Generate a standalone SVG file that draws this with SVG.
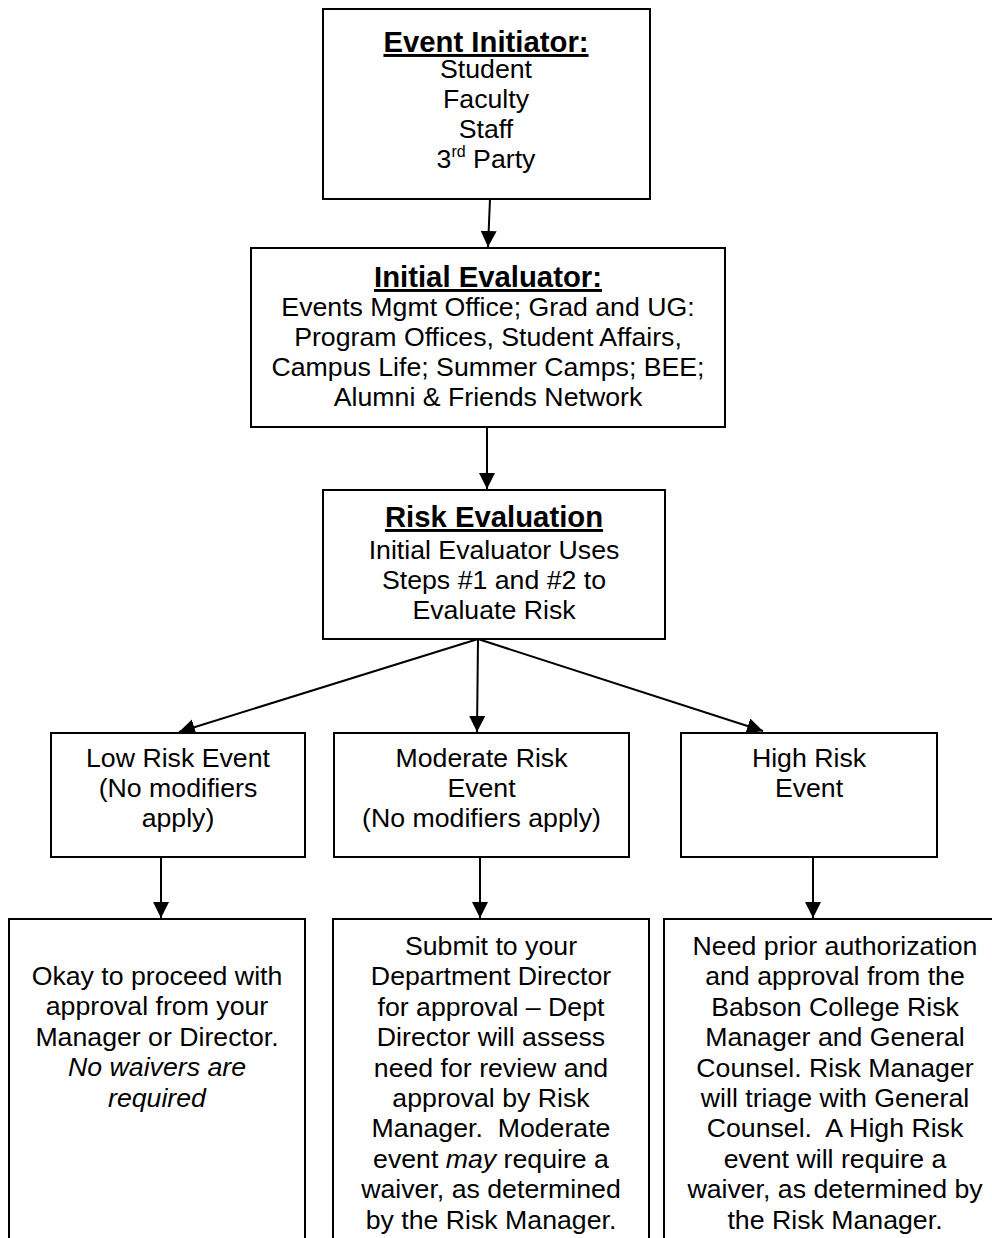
<svg xmlns="http://www.w3.org/2000/svg" width="992" height="1238" viewBox="0 0 992 1238">
<style>
.box{fill:#fff;stroke:#000;stroke-width:2}
.t{font-family:"Liberation Sans",Arial,sans-serif;font-size:26.7px;fill:#000;text-anchor:middle}
.h{font-family:"Liberation Sans",Arial,sans-serif;font-size:29.3px;font-weight:bold;fill:#000;text-anchor:middle;text-decoration:underline}
.i{font-style:italic}
.c{stroke:#000;stroke-width:2;fill:none;marker-end:url(#ah)}
</style>
<defs>
<marker id="ah" markerUnits="userSpaceOnUse" markerWidth="17" markerHeight="17" refX="16" refY="8" orient="auto">
<path d="M0,0 L16,8 L0,16 z" fill="#000"/>
</marker>
</defs>
<rect width="992" height="1238" fill="#fff"/>
<g id="connectors">
<line class="c" x1="490" y1="199" x2="488" y2="247"/>
<line class="c" x1="487" y1="427" x2="487" y2="489"/>
<line class="c" x1="478" y1="639" x2="179" y2="732"/>
<line class="c" x1="478" y1="639" x2="477" y2="732"/>
<line class="c" x1="478" y1="639" x2="763" y2="731"/>
<line class="c" x1="161" y1="857" x2="161" y2="918"/>
<line class="c" x1="480" y1="857" x2="480" y2="918"/>
<line class="c" x1="813" y1="857" x2="813" y2="918"/>
</g>
<g id="event-initiator">
<rect class="box" x="323" y="9" width="327" height="190"/>
<text class="h" x="486" y="52">Event Initiator:</text>
<text class="t" x="486" y="78">Student</text>
<text class="t" x="486" y="108">Faculty</text>
<text class="t" x="486" y="138">Staff</text>
<text class="t" x="486" y="168">3<tspan font-size="16px" dy="-11">rd</tspan><tspan dy="11"> Party</tspan></text>
</g>
<g id="initial-evaluator">
<rect class="box" x="251" y="248" width="474" height="179"/>
<text class="h" x="488" y="287">Initial Evaluator:</text>
<text class="t" x="488" y="316">Events Mgmt Office; Grad and UG:</text>
<text class="t" x="488" y="346">Program Offices, Student Affairs,</text>
<text class="t" x="488" y="376">Campus Life; Summer Camps; BEE;</text>
<text class="t" x="488" y="406">Alumni &amp; Friends Network</text>
</g>
<g id="risk-evaluation">
<rect class="box" x="323" y="490" width="342" height="149"/>
<text class="h" x="494" y="527">Risk Evaluation</text>
<text class="t" x="494" y="559">Initial Evaluator Uses</text>
<text class="t" x="494" y="589">Steps #1 and #2 to</text>
<text class="t" x="494" y="619">Evaluate Risk</text>
</g>
<g id="low-risk">
<rect class="box" x="51" y="733" width="254" height="124"/>
<text class="t" x="178" y="767">Low Risk Event</text>
<text class="t" x="178" y="797">(No modifiers</text>
<text class="t" x="178" y="827">apply)</text>
</g>
<g id="moderate-risk">
<rect class="box" x="334" y="733" width="295" height="124"/>
<text class="t" x="481.5" y="767">Moderate Risk</text>
<text class="t" x="481.5" y="797">Event</text>
<text class="t" x="481.5" y="827">(No modifiers apply)</text>
</g>
<g id="high-risk">
<rect class="box" x="681" y="733" width="256" height="124"/>
<text class="t" x="809" y="767">High Risk</text>
<text class="t" x="809" y="797">Event</text>
</g>
<g id="low-outcome">
<rect class="box" x="9" y="919" width="296" height="340"/>
<text class="t" x="157" y="985">Okay to proceed with</text>
<text class="t" x="157" y="1015.4">approval from your</text>
<text class="t" x="157" y="1045.8">Manager or Director.</text>
<text class="t i" x="157" y="1076.2">No waivers are</text>
<text class="t i" x="157" y="1106.6">required</text>
</g>
<g id="moderate-outcome">
<rect class="box" x="333" y="919" width="316" height="340"/>
<text class="t" x="491" y="955">Submit to your</text>
<text class="t" x="491" y="985.4">Department Director</text>
<text class="t" x="491" y="1015.8">for approval – Dept</text>
<text class="t" x="491" y="1046.2">Director will assess</text>
<text class="t" x="491" y="1076.6">need for review and</text>
<text class="t" x="491" y="1107">approval by Risk</text>
<text class="t" x="491" y="1137.4" xml:space="preserve">Manager.  Moderate</text>
<text class="t" x="491" y="1167.8">event <tspan class="i">may</tspan> require a</text>
<text class="t" x="491" y="1198.2">waiver, as determined</text>
<text class="t" x="491" y="1228.6">by the Risk Manager.</text>
</g>
<g id="high-outcome">
<rect class="box" x="664" y="919" width="342" height="340"/>
<text class="t" x="835" y="955">Need prior authorization</text>
<text class="t" x="835" y="985.4">and approval from the</text>
<text class="t" x="835" y="1015.8">Babson College Risk</text>
<text class="t" x="835" y="1046.2">Manager and General</text>
<text class="t" x="835" y="1076.6">Counsel. Risk Manager</text>
<text class="t" x="835" y="1107">will triage with General</text>
<text class="t" x="835" y="1137.4" xml:space="preserve">Counsel.  A High Risk</text>
<text class="t" x="835" y="1167.8">event will require a</text>
<text class="t" x="835" y="1198.2">waiver, as determined by</text>
<text class="t" x="835" y="1228.6">the Risk Manager.</text>
</g>
</svg>
